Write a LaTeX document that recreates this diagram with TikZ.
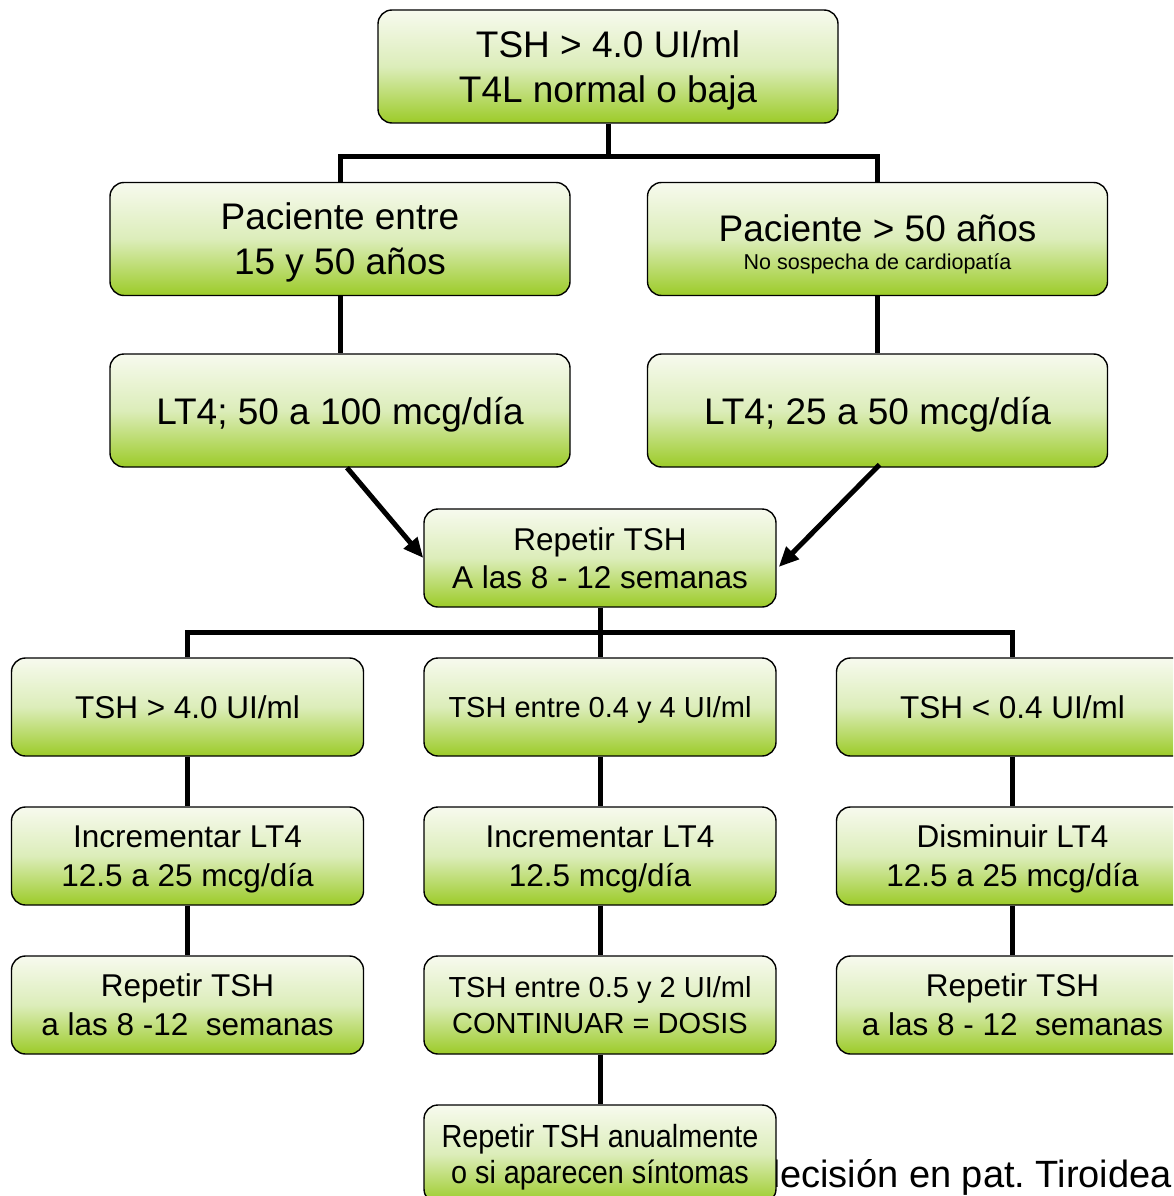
\documentclass[tikz,border=0pt]{standalone}
\usepackage{fontspec}
\setmainfont{Liberation Sans}
\newfontfamily\narrowsans[FakeStretch=0.9]{Liberation Sans}
\usetikzlibrary{arrows.meta,calc}
\frenchspacing

\definecolor{gtop}{HTML}{F7FAEE}
\definecolor{gmid}{HTML}{DCEDBA}
\definecolor{gbot}{HTML}{9CCB28}

\tikzset{
  box/.style={draw=black, line width=1.4pt, rounded corners=14pt,
    top color=gtop, bottom color=gbot, middle color=gmid,
    inner sep=0pt, align=center, text=black, text depth=0pt},
  bigbox/.style={box, minimum width=460pt, minimum height=113pt,
    font=\fontsize{37}{45}\selectfont},
  midbox/.style={box, minimum width=352pt, minimum height=98pt,
    font=\fontsize{31.5}{39}\selectfont},
  smallbox/.style={midbox, font=\fontsize{29}{36}\selectfont},
  conn/.style={draw=black, line width=5pt},
  arr/.style={conn, -{Triangle[length=20pt,width=17pt]}},
}

\begin{document}
\begin{tikzpicture}[x=1pt,y=-1pt]
  \clip (0,0) rectangle (1173,1196);
  \fill[white] (0,0) rectangle (1173,1196);

  % caption text, partly covered by the last box
  \node[anchor=base west, inner sep=0pt, font=\fontsize{38}{42}\selectfont]
    (caption) at (759,1187) {decisión en pat. Tiroidea};

  % first level
  \node[bigbox] (top) at (608,66.5) {TSH > 4.0 UI/ml\\T4L normal o baja};

  % age groups
  \node[bigbox] (p1) at (340,239) {Paciente entre\\15 y 50 años};
  \node[bigbox, font=\fontsize{21.5}{28}\selectfont, text height=61pt] (p2) at (877.5,239)
    {{\fontsize{37}{28}\selectfont Paciente > 50 años}\\No sospecha de cardiopatía};

  % initial dose
  \node[bigbox] (d1) at (340,410.5) {LT4; 50 a 100 mcg/día};
  \node[bigbox] (d2) at (877.5,410.5) {LT4; 25 a 50 mcg/día};

  % control
  \node[midbox, font=\fontsize{31.5}{38}\selectfont] (rep) at (600,558) {Repetir TSH\\A las 8 - 12 semanas};

  % results
  \node[midbox] (a1) at (187.5,707) {TSH > 4.0 UI/ml};
  \node[smallbox] (a2) at (600,707) {TSH entre 0.4 y 4 UI/ml};
  \node[midbox] (a3) at (1012.5,707) {TSH < 0.4 UI/ml};

  % adjustments
  \node[midbox] (b1) at (187.5,856) {Incrementar LT4\\12.5 a 25 mcg/día};
  \node[midbox] (b2) at (600,856) {Incrementar LT4\\12.5 mcg/día};
  \node[midbox] (b3) at (1012.5,856) {Disminuir LT4\\12.5 a 25 mcg/día};

  % follow-up
  \node[midbox] (c1) at (187.5,1005) {Repetir TSH\\a las 8 -12\ \ semanas};
  \node[smallbox] (c2) at (600,1005) {TSH entre 0.5 y 2 UI/ml\\CONTINUAR = DOSIS};
  \node[midbox] (c3) at (1012.5,1005) {Repetir TSH\\a las 8 - 12\ \ semanas};

  \node[midbox, font=\narrowsans\fontsize{32}{36}\selectfont] (e) at (600,1154)
    {Repetir TSH anualmente\\o si aparecen síntomas};

  % connectors
  \coordinate (j1) at (608,156);
  \coordinate (j2) at (600,632);
  \draw[conn] (top.south) -- (j1);
  \draw[conn] (p1.north) |- (j1) -| (p2.north);
  \draw[conn] (p1.south) -- (d1.north);
  \draw[conn] (p2.south) -- (d2.north);
  \draw[arr] ($(d1.south)+(7,0)$) -- (rep.west);
  \draw[arr] ($(d2.south)+(2,-3)$) -- ($(rep.east)+(2,9)$);
  \draw[conn] (rep.south) -- (j2);
  \draw[conn] (a1.north) |- (j2) -| (a3.north);
  \draw[conn] (j2) -- (a2.north);
  \draw[conn] (a1.south) -- (b1.north);
  \draw[conn] (b1.south) -- (c1.north);
  \draw[conn] (a2.south) -- (b2.north);
  \draw[conn] (b2.south) -- (c2.north);
  \draw[conn] (c2.south) -- (e.north);
  \draw[conn] (a3.south) -- (b3.north);
  \draw[conn] (b3.south) -- (c3.north);
\end{tikzpicture}
\end{document}
